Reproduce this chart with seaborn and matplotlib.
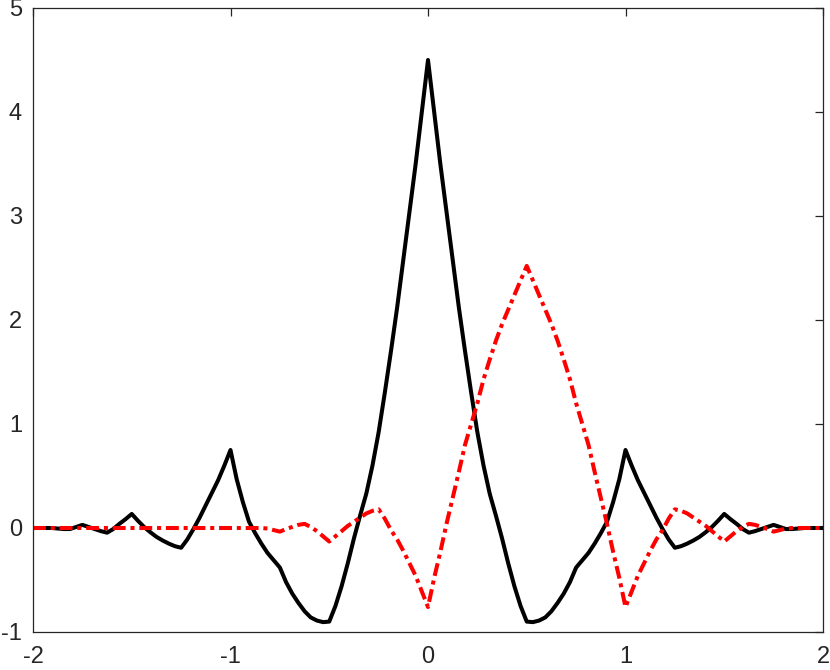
import matplotlib
matplotlib.use("Agg")
import matplotlib.pyplot as plt
import seaborn as sns
import pandas as pd
import numpy as np


# sample grid (step 1/32 from -2 to 2)
x_vals = np.linspace(-2, 2, 129)

# black solid curve
phi_vals = [0, 0, 0, 0, -0.005, -0.01, -0.01, 0.01, 0.03, 0.01, -0.01, -0.03, -0.045, -0.01,
            0.04, 0.085, 0.135, 0.07, 0.01, -0.04, -0.085, -0.12, -0.15, -0.175, -0.19, -0.11,
            -0.01, 0.1, 0.22, 0.34, 0.46, 0.6, 0.75, 0.47, 0.25, 0.06, -0.05, -0.15, -0.24,
            -0.31, -0.38, -0.52, -0.63, -0.72, -0.8, -0.86, -0.89, -0.905, -0.9, -0.75, -0.56,
            -0.34, -0.1, 0.12, 0.33, 0.6, 0.92, 1.3, 1.7, 2.12, 2.58, 3.04, 3.5, 4.0, 4.5,
            4.0, 3.5, 3.04, 2.58, 2.12, 1.7, 1.3, 0.92, 0.6, 0.33, 0.12, -0.1, -0.34, -0.56,
            -0.75, -0.9, -0.905, -0.89, -0.86, -0.8, -0.72, -0.63, -0.52, -0.38, -0.31, -0.24,
            -0.15, -0.05, 0.06, 0.25, 0.47, 0.75, 0.6, 0.46, 0.34, 0.22, 0.1, -0.01, -0.11,
            -0.19, -0.175, -0.15, -0.12, -0.085, -0.04, 0.01, 0.07, 0.135, 0.085, 0.04, -0.01,
            -0.045, -0.03, -0.01, 0.01, 0.03, 0.01, -0.01, -0.01, -0.005, 0, 0, 0, 0]

# red dash-dot curve
psi_vals = [0, 0, 0, 0, 0, 0, 0, 0, 0, 0, 0, 0, 0, 0, 0, 0, 0, 0, 0, 0, 0, 0, 0, 0, 0, 0,
            0, 0, 0, 0, 0, 0, 0,
            0, 0, 0, 0, 0, -0.005, -0.02, -0.035, -0.01, 0.01, 0.03, 0.04, 0.01, -0.03, -0.08,
            -0.13, -0.08, -0.03, 0.02, 0.06, 0.1, 0.14, 0.165, 0.18, 0.09, -0.02, -0.11, -0.22,
            -0.34, -0.46, -0.61, -0.76, -0.48, -0.23, 0.04, 0.29, 0.54, 0.8, 1.0, 1.2, 1.43,
            1.62, 1.8, 1.96, 2.1, 2.24, 2.38, 2.52,
            2.38, 2.24, 2.1, 1.96, 1.8, 1.62, 1.43, 1.2, 1.0, 0.8, 0.54, 0.29, 0.04, -0.23,
            -0.48, -0.76, -0.61, -0.46, -0.34, -0.22, -0.11, -0.02, 0.09, 0.18, 0.165, 0.14,
            0.1, 0.06, 0.02, -0.03, -0.08, -0.13, -0.08, -0.03, 0.01, 0.04, 0.03, 0.01, -0.01,
            -0.035, -0.02, -0.005, 0, 0, 0, 0, 0, 0]

x_ticks = [-2, -1, 0, 1, 2]
y_ticks = [-1, 0, 1, 2, 3, 4, 5]

df = pd.DataFrame({"x": x_vals, "phi": phi_vals, "psi": psi_vals})

sns.set_style("white")
plt.rcParams["font.family"] = ["Liberation Sans", "DejaVu Sans"]

fig = plt.figure(figsize=(8.3, 6.7), dpi=100)
ax = fig.add_axes([33 / 830, 38 / 670, 790 / 830, 624 / 670])

sns.lineplot(data=df, x="x", y="phi", color="black", linewidth=2.9, ax=ax)
sns.lineplot(data=df, x="x", y="psi", color="red", linewidth=2.9, ax=ax)
ax.lines[1].set_dashes((3.2, 1.2, 1.0, 1.2))

ax.set_xlim(-2, 2)
ax.set_ylim(-1, 5)
ax.set_xticks(x_ticks)
ax.set_yticks(y_ticks)
ax.set_xticklabels([str(t) for t in x_ticks])
ax.set_yticklabels([str(t) for t in y_ticks])
ax.set_xlabel("")
ax.set_ylabel("")

for side in ["top", "bottom", "left", "right"]:
    ax.spines[side].set_visible(True)
    ax.spines[side].set_color("#262626")
    ax.spines[side].set_linewidth(0.9)

ax.tick_params(axis="both", direction="in", length=6, width=0.9, color="#262626",
               labelsize=17, labelcolor="#262626", top=True, right=True)
ax.tick_params(axis="x", pad=10)
ax.tick_params(axis="y", pad=8)

fig.savefig("out.png", dpi=100)
